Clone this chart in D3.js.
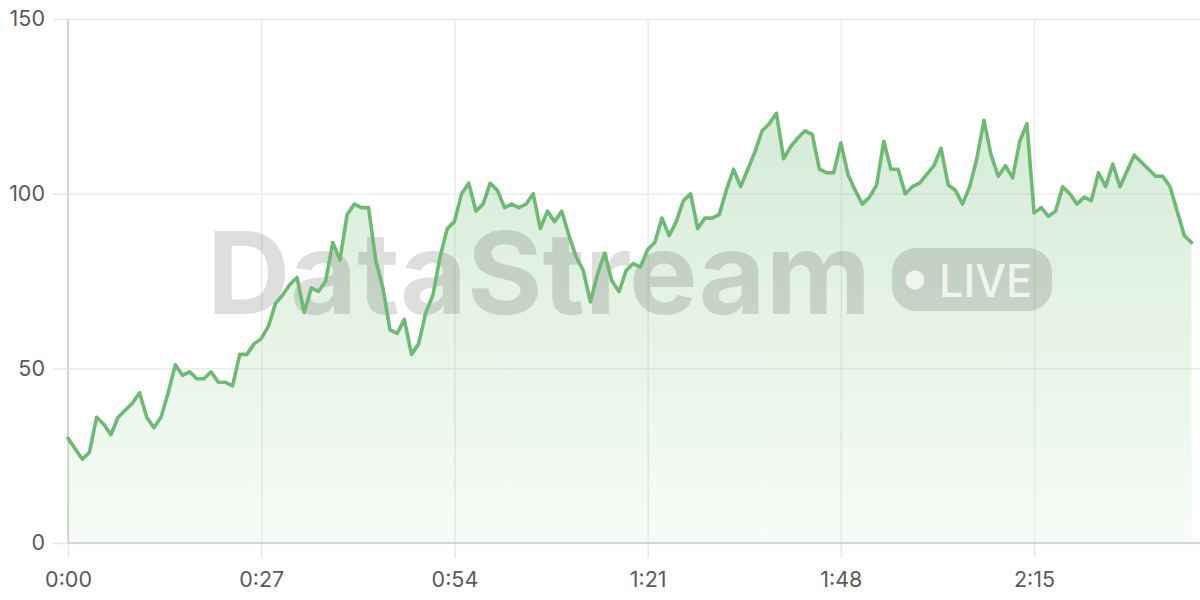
<!DOCTYPE html>
<html>
<head>
<meta charset="utf-8">
<script src="https://cdn.jsdelivr.net/npm/d3@7"></script>
<style>
  html, body { margin: 0; padding: 0; background: #ffffff; }
  svg { display: block; font-family: Inter, "Helvetica Neue", Arial, sans-serif; }
</style>
</head>
<body>
<svg id="chart" width="1200" height="600"></svg>
<script>
// ---- data (one value per second) ----
const values = [
  30, 27, 24, 26, 36, 34, 31, 36, 38, 40,
  43, 36, 33, 36, 43, 51, 48, 49, 47, 47,
  49, 46, 46, 45, 54, 54, 57, 58.5, 62, 68.6,
  71, 74, 76, 66, 73, 72, 75, 86, 81, 94,
  97, 96, 96, 81, 73, 61, 60, 64, 54, 57,
  66, 71, 82, 90, 92, 100, 103, 95, 97, 103,
  101, 96, 97, 96, 97, 100, 90, 95, 92, 95,
  88, 82, 78, 69, 77, 83, 75, 72, 78, 80,
  79, 84, 86, 93, 88, 92, 98, 100, 90, 93,
  93, 94, 101, 107, 102, 107, 112, 118, 120, 123,
  110, 113.5, 116, 118, 117, 107, 106, 106, 114.5, 105.5,
  101, 97, 99, 102.5, 115, 107, 107, 100, 102, 103,
  105.5, 108, 113, 102.5, 101, 97, 102, 110, 121, 111,
  105, 108, 104.5, 115, 120, 94.5, 96, 93.5, 95, 102,
  100, 97, 99, 98, 106, 102, 108.5, 102, 106.5, 111,
  109, 107, 105, 105, 102, 95, 88, 86
];
const xTickValues = [0, 27, 54, 81, 108, 135];
const xTickLabels = ["0:00", "0:27", "0:54", "1:21", "1:48", "2:15"];
const yTickValues = [0, 50, 100, 150];
const watermarkText = "DataStream";
const badgeText = "LIVE";

// ---- layout ----
const FONT = "Inter, 'Helvetica Neue', Arial, sans-serif";
const svg = d3.select("#chart");
const mLeft = 68, mRight = 1191.5, mTop = 19, mBottom = 543, gridRight = 1200;

const x = d3.scaleLinear().domain([0, values.length - 1]).range([mLeft, mRight]);
const y = d3.scaleLinear().domain([0, 150]).range([mBottom, mTop]);

// gradient
const defs = svg.append("defs");
const grad = defs.append("linearGradient")
  .attr("id", "areaGrad").attr("gradientUnits", "userSpaceOnUse")
  .attr("x1", 0).attr("x2", 0).attr("y1", mTop).attr("y2", mBottom);
grad.append("stop").attr("offset", 0).attr("stop-color", "#66bb6a").attr("stop-opacity", 0.33);
grad.append("stop").attr("offset", 1).attr("stop-color", "#66bb6a").attr("stop-opacity", 0.05);

// horizontal grid + y ticks
const yAxis = d3.axisLeft(y).tickValues(yTickValues).tickSize(15).tickPadding(8).tickFormat(d3.format("d"));
const gy = svg.append("g").attr("transform", `translate(${mLeft},0)`).call(yAxis)
  .attr("font-family", FONT).attr("font-size", 21.5);
gy.select(".domain").remove();
gy.selectAll(".tick line").attr("stroke", "#e6e6e6").attr("stroke-width", 1.5);
gy.selectAll(".tick text").attr("fill", "#5a5a5a");
gy.selectAll(".tick").append("line")
  .attr("x1", 0).attr("x2", gridRight - mLeft)
  .attr("stroke", "#ebebeb").attr("stroke-width", 1.5);

// vertical grid + x ticks
const xAxis = d3.axisBottom(x).tickValues(xTickValues).tickSize(15).tickPadding(14)
  .tickFormat((d, i) => xTickLabels[i]);
const gx = svg.append("g").attr("transform", `translate(0,${mBottom})`).call(xAxis)
  .attr("font-family", FONT).attr("font-size", 21.5);
gx.select(".domain").remove();
gx.selectAll(".tick line").attr("stroke", "#e6e6e6").attr("stroke-width", 1.5);
gx.selectAll(".tick text").attr("fill", "#5a5a5a");
gx.selectAll(".tick").append("line")
  .attr("y1", 0).attr("y2", mTop - mBottom)
  .attr("stroke", "#ebebeb").attr("stroke-width", 1.5);

// area
const area = d3.area().x((d, i) => x(i)).y0(y(0)).y1(d => y(d));
svg.append("path").datum(values).attr("d", area).attr("fill", "url(#areaGrad)");

// axis lines
svg.append("line").attr("x1", mLeft).attr("x2", mLeft).attr("y1", mTop).attr("y2", mBottom)
  .attr("stroke", "#cccccc").attr("stroke-width", 1.5);
svg.append("line").attr("x1", mLeft).attr("x2", gridRight).attr("y1", mBottom).attr("y2", mBottom)
  .attr("stroke", "#cccccc").attr("stroke-width", 1.5);

// watermark
const wm = svg.append("g").attr("pointer-events", "none").attr("font-family", FONT);
wm.append("text").text(watermarkText)
  .attr("x", 207).attr("y", 314)
  .attr("font-size", 114).attr("font-weight", 700)
  .attr("textLength", 664).attr("lengthAdjust", "spacingAndGlyphs")
  .attr("fill", "#000").attr("fill-opacity", 0.13);
wm.append("rect").attr("x", 892).attr("y", 248).attr("width", 160).attr("height", 63)
  .attr("rx", 24).attr("fill", "#000").attr("fill-opacity", 0.13);
wm.append("circle").attr("cx", 915).attr("cy", 280).attr("r", 9.5)
  .attr("fill", "#fff").attr("fill-opacity", 0.75);
wm.append("text").text(badgeText)
  .attr("x", 939).attr("y", 297)
  .attr("font-size", 45).attr("font-weight", 500)
  .attr("textLength", 93).attr("lengthAdjust", "spacingAndGlyphs")
  .attr("fill", "#fff").attr("fill-opacity", 0.75);

// line
const line = d3.line().x((d, i) => x(i)).y(d => y(d));
svg.append("path").datum(values).attr("d", line)
  .attr("fill", "none").attr("stroke", "#6dbb73").attr("stroke-width", 3.6)
  .attr("stroke-linejoin", "round").attr("stroke-linecap", "round");
</script>
</body>
</html>
